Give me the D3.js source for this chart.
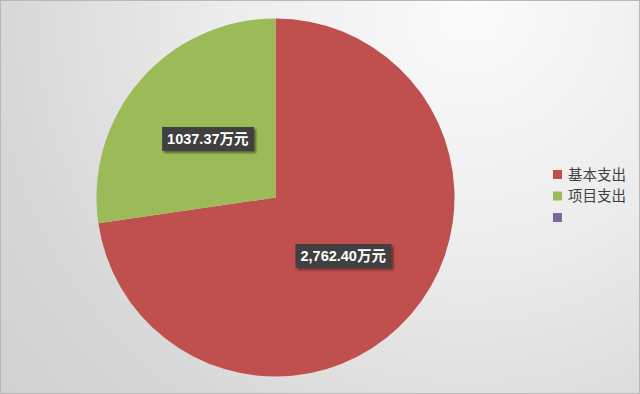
<!DOCTYPE html>
<html>
<head>
<meta charset="utf-8">
<script src="https://cdn.jsdelivr.net/npm/d3@7"></script>
<style>
  html, body { margin: 0; padding: 0; background: #fff; }
  svg { display: block; }
</style>
</head>
<body>
<div id="chart"></div>
<script>
// chart data
var categories = ['基本支出', '项目支出', ''];
var values = [2762.40, 1037.37, 0];
var labels = ['2,762.40万元', '1037.37万元', ''];
var colors = ['#C0504D', '#9BBB59', '#8064A2'];

var width = 640, height = 394;
var cx = 275.5, cy = 197.5, radius = 179;

var svg = d3.select('#chart').append('svg')
    .attr('width', width)
    .attr('height', height);

var defs = svg.append('defs');
var bg = defs.append('radialGradient')
    .attr('id', 'bgGrad')
    .attr('gradientUnits', 'userSpaceOnUse')
    .attr('cx', 470).attr('cy', 10).attr('r', 620);
bg.append('stop').attr('offset', '0%').attr('stop-color', '#fbfbfb');
bg.append('stop').attr('offset', '40%').attr('stop-color', '#ececec');
bg.append('stop').attr('offset', '75%').attr('stop-color', '#d8d8d8');
bg.append('stop').attr('offset', '100%').attr('stop-color', '#d0d0d0');

var shadow = defs.append('filter').attr('id', 'lblShadow')
    .attr('x', '-20%').attr('y', '-30%').attr('width', '150%').attr('height', '170%');
shadow.append('feDropShadow')
    .attr('dx', 2).attr('dy', 2).attr('stdDeviation', 1.2)
    .attr('flood-color', '#000').attr('flood-opacity', 0.45);

// background + frame
svg.append('rect')
    .attr('x', 0.5).attr('y', 0.5)
    .attr('width', width - 1).attr('height', height - 1)
    .attr('fill', 'url(#bgGrad)')
    .attr('stroke', '#b8b8b8');

var pie = d3.pie().sort(null).value(function (d) { return d; });
var arcs = pie(values);
var arc = d3.arc().innerRadius(0).outerRadius(radius);
var labelArc = d3.arc().innerRadius(0).outerRadius(radius);

var g = svg.append('g').attr('transform', 'translate(' + cx + ',' + cy + ')');

g.selectAll('path.slice')
    .data(arcs)
    .enter().append('path')
    .attr('class', 'slice')
    .attr('d', arc)
    .attr('fill', function (d, i) { return colors[i]; });

// data labels
var lbl = g.selectAll('g.lbl')
    .data(arcs.filter(function (d) { return d.value > 0; }))
    .enter().append('g')
    .attr('class', 'lbl')
    .attr('transform', function (d) {
        var c = labelArc.centroid(d);
        return 'translate(' + c[0] + ',' + c[1] + ')';
    });

lbl.each(function (d) {
    var sel = d3.select(this);
    var txt = sel.append('text')
        .attr('text-anchor', 'middle')
        .attr('dy', '0.36em')
        .attr('fill', '#ffffff')
        .style('font-family', '"Liberation Sans", "Noto Sans CJK SC", sans-serif')
        .style('font-weight', 'bold')
        .style('font-size', '14.5px')
        .text(labels[d.index]);
    var bb = txt.node().getBBox();
    sel.insert('rect', 'text')
        .attr('x', bb.x - 5).attr('y', -12)
        .attr('width', bb.width + 10).attr('height', 24)
        .attr('fill', '#404040')
        .attr('filter', 'url(#lblShadow)');
});

// legend
var legend = svg.append('g').attr('transform', 'translate(553,167)');
var item = legend.selectAll('g.item')
    .data(categories)
    .enter().append('g')
    .attr('class', 'item')
    .attr('transform', function (d, i) { return 'translate(0,' + (i * 21.5) + ')'; });

item.append('rect')
    .attr('x', 0).attr('y', 3)
    .attr('width', 9).attr('height', 9)
    .attr('fill', function (d, i) { return colors[i]; });

item.append('text')
    .attr('x', 15).attr('y', 12.5)
    .attr('fill', '#404040')
    .style('font-family', '"Noto Sans CJK SC", sans-serif')
    .style('font-size', '14.5px')
    .text(function (d) { return d; });
</script>
</body>
</html>
